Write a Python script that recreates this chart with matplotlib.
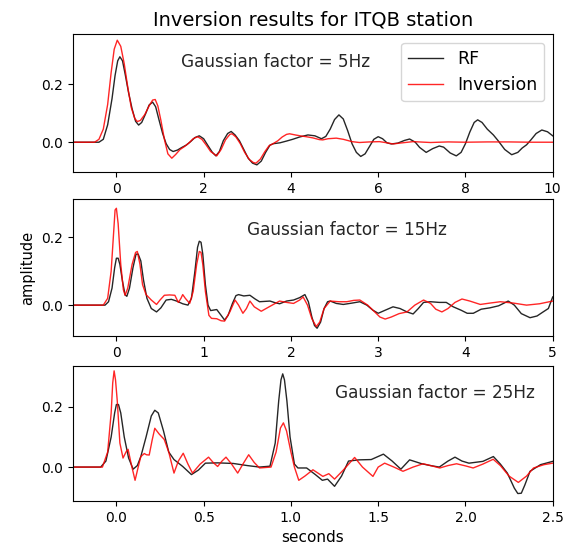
import matplotlib
matplotlib.use("Agg")
import matplotlib.pyplot as plt

# Gaussian factor 5Hz : RF trace
t5_rf = [-1.0, -0.4, -0.3, -0.2, -0.1, -0.03, 0.03, 0.08, 0.14, 0.2, 0.28, 0.36, 0.44, 0.51, 0.58, 0.67, 0.75,
         0.83, 0.9, 0.98, 1.06, 1.14, 1.22, 1.3, 1.4, 1.5, 1.6, 1.7, 1.8, 1.9, 2.0, 2.1, 2.2, 2.28, 2.36, 2.45,
         2.55, 2.63, 2.72, 2.82, 2.92, 3.02, 3.12, 3.22, 3.32, 3.42, 3.52, 3.6, 3.75, 3.9, 4.04, 4.2, 4.39, 4.55,
         4.7, 4.8, 4.9, 5.0, 5.1, 5.2, 5.3, 5.4, 5.5, 5.6, 5.7, 5.8, 5.9, 6.0, 6.1, 6.2, 6.3, 6.45, 6.6, 6.72,
         6.85, 6.95, 7.1, 7.25, 7.4, 7.5, 7.65, 7.79, 7.9, 8.0, 8.1, 8.2, 8.28, 8.38, 8.5, 8.64, 8.75, 8.9, 9.06,
         9.2, 9.3, 9.4, 9.5, 9.62, 9.75, 9.88, 10.0]
a5_rf = [0.0, 0.0, 0.01, 0.06, 0.15, 0.23, 0.28, 0.294, 0.28, 0.235, 0.17, 0.115, 0.072, 0.059, 0.068, 0.098, 0.128,
         0.138, 0.122, 0.075, 0.03, -0.005, -0.025, -0.032, -0.027, -0.018, -0.01, 0.002, 0.016, 0.022, 0.012, -0.012, -0.035, -0.047, -0.032, 0.005,
         0.03, 0.037, 0.025, 0.005, -0.025, -0.055, -0.072, -0.078, -0.065, -0.035, -0.01, -0.005, -0.002, 0.004, 0.01, 0.018, 0.025, 0.022,
         0.012, 0.02, 0.045, 0.078, 0.094, 0.08, 0.04, -0.005, -0.035, -0.049, -0.04, -0.015, 0.01, 0.019, 0.012, -0.002, -0.006, -0.003, 0.006, 0.011,
         0.0, -0.018, -0.035, -0.022, -0.013, -0.017, -0.037, -0.047, -0.035, -0.005, 0.035, 0.068, 0.077, 0.068, 0.045, 0.025, 0.005, -0.025, -0.043,
         -0.035, -0.02, -0.009, 0.008, 0.03, 0.042, 0.036, 0.022]
# Gaussian factor 5Hz : inversion
t5_inv = [-1.0, -0.5, -0.4, -0.3, -0.2, -0.12, -0.05, 0.02, 0.1, 0.18, 0.26, 0.34, 0.42, 0.48, 0.55, 0.65, 0.75,
          0.83, 0.89, 0.95, 1.02, 1.1, 1.18, 1.27, 1.36, 1.46, 1.56, 1.66, 1.76, 1.86, 1.96, 2.06, 2.16, 2.3, 2.4,
          2.5, 2.6, 2.65, 2.74, 2.84, 2.94, 3.05, 3.14, 3.2, 3.3, 3.4, 3.5, 3.58, 3.7, 3.8, 3.9, 3.97, 4.1, 4.25,
          4.35, 4.5, 4.65, 4.73, 4.85, 5.04, 5.2, 5.4, 5.57, 5.8, 6.03, 6.2, 6.34, 6.5, 6.8, 7.2, 7.6, 8.0, 8.5,
          9.0, 9.5, 10.0]
a5_inv = [0.0, 0.0, 0.01, 0.045, 0.13, 0.24, 0.32, 0.351, 0.33, 0.27, 0.19, 0.12, 0.082, 0.071, 0.075, 0.095, 0.125,
          0.145, 0.147, 0.125, 0.075, 0.01, -0.04, -0.055, -0.042, -0.025, -0.015, -0.003, 0.012, 0.019, 0.01, -0.01, -0.032, -0.047, -0.025,
          0.008, 0.027, 0.029, 0.018, -0.005, -0.035, -0.06, -0.07, -0.072, -0.058, -0.033, -0.012, -0.006, 0.005, 0.018, 0.027, 0.029, 0.025, 0.021,
          0.019, 0.015, 0.009, 0.008, 0.012, 0.014, 0.01, 0.002, -0.001, 0.001, 0.002, -0.002, -0.006, -0.003, 0.002, -0.001, 0.001, 0.0, 0.001,
          0.001, 0.0, 0.0]

# Gaussian factor 15Hz : RF trace
t15_rf = [-0.5, -0.13, -0.09, -0.05, -0.02, 0.0, 0.02, 0.04, 0.07, 0.1, 0.12, 0.15, 0.19, 0.225, 0.25, 0.28, 0.31,
          0.35, 0.4, 0.46, 0.51, 0.57, 0.63, 0.69, 0.76, 0.82, 0.86, 0.9, 0.93, 0.95, 0.97, 0.99, 1.02, 1.05, 1.08,
          1.15, 1.2, 1.24, 1.28, 1.33, 1.37, 1.4, 1.46, 1.53, 1.59, 1.64, 1.7, 1.76, 1.82, 1.87, 1.95, 2.03, 2.1,
          2.16, 2.2, 2.24, 2.27, 2.3, 2.34, 2.38, 2.42, 2.45, 2.52, 2.6, 2.7, 2.79, 2.87, 2.94, 3.0, 3.08, 3.17,
          3.25, 3.33, 3.4, 3.46, 3.52, 3.6, 3.7, 3.78, 3.86, 3.95, 4.02, 4.09, 4.18, 4.28, 4.38, 4.49, 4.56, 4.64,
          4.74, 4.82, 4.89, 4.95, 5.0]
a15_rf = [0.0, 0.0, 0.01, 0.05, 0.11, 0.138, 0.138, 0.12, 0.07, 0.03, 0.026, 0.05, 0.11, 0.15, 0.15, 0.13, 0.075,
          0.02, -0.01, -0.02, -0.008, 0.015, 0.017, 0.012, 0.004, 0.0, 0.02, 0.1, 0.17, 0.188, 0.185, 0.15, 0.06, 0.0, -0.016,
          -0.013, -0.03, -0.044, -0.03, 0.005, 0.028, 0.031, 0.027, 0.029, 0.018, 0.01, 0.011, 0.012, 0.007, 0.004, 0.012, 0.015, 0.022,
          0.031, 0.01, -0.035, -0.06, -0.068, -0.05, -0.01, 0.01, 0.012, 0.005, 0.002, 0.006, 0.01, 0.0, -0.015, -0.024, -0.015, -0.005,
          -0.01, -0.02, -0.026, -0.01, 0.008, 0.01, 0.008, 0.008, -0.005, -0.015, -0.024, -0.024, -0.012, -0.008, -0.002, 0.012, 0.0, -0.025,
          -0.037, -0.032, -0.02, -0.01, 0.024]
# Gaussian factor 15Hz : inversion
t15_inv = [-0.5, -0.15, -0.1, -0.06, -0.03, -0.015, 0.0, 0.02, 0.05, 0.08, 0.1, 0.13, 0.18, 0.22, 0.24, 0.27, 0.3,
           0.34, 0.4, 0.46, 0.5, 0.55, 0.61, 0.67, 0.71, 0.74, 0.76, 0.79, 0.84, 0.88, 0.92, 0.95, 0.97, 0.99, 1.02,
           1.06, 1.09, 1.15, 1.2, 1.24, 1.3, 1.36, 1.4, 1.45, 1.49, 1.53, 1.58, 1.66, 1.75, 1.87, 1.95, 2.03, 2.1,
           2.14, 2.19, 2.24, 2.29, 2.33, 2.38, 2.45, 2.55, 2.64, 2.72, 2.79, 2.88, 2.96, 3.02, 3.08, 3.15, 3.24, 3.33,
           3.42, 3.52, 3.6, 3.66, 3.73, 3.8, 3.88, 3.96, 4.05, 4.17, 4.28, 4.4, 4.55, 4.7, 4.85, 5.0]
a15_inv = [0.0, 0.0, 0.02, 0.1, 0.22, 0.28, 0.285, 0.24, 0.12, 0.045, 0.029, 0.05, 0.12, 0.155, 0.158, 0.12, 0.06,
           0.031, 0.015, 0.002, 0.015, 0.029, 0.03, 0.029, 0.008, 0.02, 0.031, 0.02, 0.005, 0.04, 0.12, 0.158, 0.155, 0.12, 0.04,
           -0.03, -0.039, -0.04, -0.046, -0.047, -0.02, 0.015, 0.0, -0.024, -0.01, 0.012, -0.005, -0.018, -0.005, 0.012, 0.008, 0.005, 0.015,
           0.024, 0.0, -0.04, -0.063, -0.05, -0.01, 0.012, 0.01, 0.01, 0.014, 0.015, 0.0, -0.02, -0.035, -0.041, -0.035, -0.025, -0.02,
           0.0, 0.015, 0.005, -0.012, -0.02, -0.01, 0.008, 0.018, 0.012, 0.002, 0.006, 0.01, 0.006, 0.0, 0.004, 0.012]

# Gaussian factor 25Hz : RF trace
t25_rf = [-0.25, -0.09, -0.06, -0.03, -0.01, 0.0, 0.012, 0.025, 0.045, 0.07, 0.096, 0.12, 0.14, 0.17, 0.2, 0.22,
          0.24, 0.27, 0.3, 0.33, 0.38, 0.43, 0.47, 0.51, 0.58, 0.67, 0.75, 0.82, 0.88, 0.91, 0.93, 0.943, 0.953,
          0.963, 0.977, 0.995, 1.02, 1.04, 1.09, 1.14, 1.18, 1.21, 1.25, 1.29, 1.33, 1.39, 1.46, 1.53, 1.58, 1.63,
          1.68, 1.75, 1.8, 1.85, 1.9, 1.94, 1.98, 2.02, 2.1, 2.16, 2.2, 2.24, 2.28, 2.3, 2.32, 2.34, 2.37, 2.43, 2.5]
a25_rf = [0.0, 0.0, 0.02, 0.1, 0.18, 0.208, 0.208, 0.18, 0.1, 0.03, -0.007, 0.005, 0.035, 0.1, 0.17, 0.189,
          0.18, 0.12, 0.05, 0.025, 0.002, -0.025, -0.01, 0.013, 0.014, 0.012, 0.005, 0.0, 0.003, 0.08, 0.22, 0.29, 0.31,
          0.29, 0.22, 0.1, 0.01, -0.003, -0.003, -0.025, -0.044, -0.04, -0.064, -0.03, 0.02, 0.024, 0.025, 0.043, 0.02, -0.007,
          0.024, 0.011, 0.005, 0.0, 0.02, 0.033, 0.02, 0.013, 0.019, 0.035, 0.01, -0.02, -0.07, -0.088, -0.087, -0.06, -0.014, 0.008, 0.019]
# Gaussian factor 25Hz : inversion
t25_inv = [-0.25, -0.08, -0.05, -0.03, -0.021, -0.013, -0.005, 0.005, 0.02, 0.038, 0.055, 0.067, 0.085, 0.107, 0.125,
           0.14, 0.16, 0.172, 0.188, 0.205, 0.22, 0.245, 0.274, 0.3, 0.33, 0.355, 0.383, 0.41, 0.436, 0.48, 0.528,
           0.555, 0.58, 0.605, 0.628, 0.66, 0.695, 0.725, 0.758, 0.79, 0.82, 0.886, 0.915, 0.94, 0.957, 0.975, 1.0,
           1.02, 1.045, 1.08, 1.126, 1.155, 1.183, 1.217, 1.25, 1.3, 1.365, 1.41, 1.47, 1.5, 1.537, 1.59, 1.642, 1.7,
           1.757, 1.8, 1.853, 1.9, 1.949, 2.0, 2.044, 2.1, 2.159, 2.2, 2.25, 2.303, 2.35, 2.39, 2.45, 2.5]
a25_inv = [0.0, 0.0, 0.05, 0.18, 0.28, 0.32, 0.29, 0.22, 0.08, 0.03, 0.05, 0.059, 0.01, -0.044, 0.0,
           0.035, 0.045, 0.041, 0.04, 0.09, 0.129, 0.11, 0.092, 0.05, -0.02, 0.02, 0.046, 0.01, -0.02, 0.01, 0.033,
           0.015, 0.002, 0.02, 0.033, 0.01, -0.02, 0.01, 0.041, 0.015, -0.003, 0.0, 0.05, 0.13, 0.147, 0.12, 0.05,
           0.0, -0.044, -0.03, -0.009, -0.02, -0.031, -0.022, -0.04, -0.01, 0.032, 0.0, -0.031, 0.0, 0.013, 0.0, -0.014, 0.0,
           0.011, 0.005, -0.003, 0.005, 0.011, 0.004, -0.003, 0.01, 0.026, 0.005, -0.03, -0.051, -0.03, -0.003, 0.008, 0.013]

labels = ["Gaussian factor = 5Hz", "Gaussian factor = 15Hz", "Gaussian factor = 25Hz"]
xlims = [(-1, 10), (-0.5, 5), (-0.25, 2.5)]
ylims = [(-0.103, 0.372), (-0.091, 0.312), (-0.113, 0.337)]
xticks = [[0, 2, 4, 6, 8, 10], [0, 1, 2, 3, 4, 5], [0.0, 0.5, 1.0, 1.5, 2.0, 2.5]]
text_pos = [(0.225, 0.80), (0.3625, 0.774), (0.546, 0.80)]
bounds = [(0.687, 0.938), (0.389, 0.638), (0.089, 0.335)]

traces = [(t5_rf, a5_rf, t5_inv, a5_inv),
          (t15_rf, a15_rf, t15_inv, a15_inv),
          (t25_rf, a25_rf, t25_inv, a25_inv)]

fig = plt.figure(figsize=(5.64, 5.5), dpi=100)
axes = []
for i, (tr, ar, ti, ai) in enumerate(traces):
    b0, b1 = bounds[i]
    ax = fig.add_axes([0.129, b0, 0.851, b1 - b0])
    ax.plot(tr, ar, color='k', lw=1.0, alpha=0.85, label='RF')
    ax.plot(ti, ai, color='r', lw=1.0, alpha=0.85, label='Inversion')
    ax.set_xlim(*xlims[i])
    ax.set_ylim(*ylims[i])
    ax.set_xticks(xticks[i])
    ax.set_yticks([0.0, 0.2])
    ax.tick_params(labelsize=10)
    ax.text(text_pos[i][0], text_pos[i][1], labels[i], transform=ax.transAxes,
            fontsize=12.2, va='center', ha='left', color='#262626')
    axes.append(ax)

axes[0].legend(loc='upper right', fontsize=12.5)
axes[0].set_title("Inversion results for ITQB station", fontsize=14)
axes[1].set_ylabel("amplitude", fontsize=10.5)
axes[2].set_xlabel("seconds", fontsize=11)

fig.savefig("out.png", dpi=100)
